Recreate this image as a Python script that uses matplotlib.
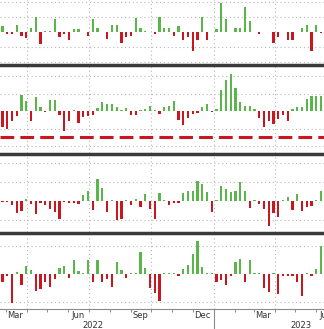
import datetime as dt

import matplotlib
matplotlib.use('Agg')
import matplotlib.pyplot as plt
import matplotlib.dates as mdates
import matplotlib.transforms as mtransforms

# weekly values, one list per panel (units = gridline steps)
panel1 = [0.4, -0.15, -0.15, 0.45, -0.27, -0.38, 0.25, 1.0, -0.8, 0.05,
          0.1, 0.85, -0.3, -0.1, -0.5, 0.2, 0.2, 0.03, -0.27, 0.85,
          0.3, 0.03, -0.45, 0.45, 0.5, -0.7, -0.3, -0.27, 0.9, 0.25,
          0.1, 0.03, -0.1, 1.0,
          0.3, 0.25, -0.25, 0.4, -0.5, -0.3, -1.25, -0.55, 1.0, -0.55,
          0.03, 0.2, 1.95, 0.85, 0.03, 0.3, 0.25, 1.65, 0.75, 0.03,
          -0.1, 0.03, 0.03, -0.75, -0.3, 0.03, -0.5, -0.5, 0.03, 0.25,
          0.5, -1.25, 0.45, -0.05, 0.9]
panel2 = [-0.9, -1.0, -0.55, -0.3, 0.9, 0.6, -0.55, 0.8, 0.25, -0.04,
          0.65, 0.65, -0.25, -1.15, -0.55, 0.08, -0.7, -0.35, -0.3, -0.25,
          0.15, 0.5, 0.4, 0.4, 0.25, 0.08, 0.2, -0.2, -0.2, 0.03,
          0.12, 0.3, 0.08, -0.15,
          0.25, 0.3, 0.6, -0.5, -0.8, -0.4, -0.15, -0.12, 0.25, 0.4,
          -0.04, 0.12, 1.2, 1.8, 2.1, 1.3, 0.5, 0.3, 0.3, 0.12,
          -0.4, -0.9, -0.55, -0.75, -0.45, -0.25, -0.55, 0.12, 0.25, 0.25,
          0.7, 0.85, 0.85, 0.85, 0.85]
panel3 = [-0.05, -0.06, -0.2, -0.65, -0.55, 0.08, -0.15, -0.7, -0.1, -0.2,
          -0.4, -0.6, -0.95, -0.05, -0.1, -0.1, -0.15, 0.3, 0.55, -0.5,
          1.15, 0.7, -0.6, 0.03, -1.0, -0.95, 0.03, -0.2, 0.08, -0.3,
          0.35, -0.4, -0.95, 0.4,
          0.03, -0.2, -0.12, -0.12, 0.4, 0.55, 0.55, 1.05, 0.9, 0.45,
          -0.6, 0.03, 0.8, 0.65, 0.45, 0.5, 1.0, 0.5, -0.35, 0.03,
          -0.15, -0.4, -1.3, -0.65, -0.85, 0.03, 0.2, -0.45, 0.35, -0.55,
          -0.3, -0.28, 0.03, 0.5, 0.55]
panel4 = [-0.3, -0.08, -1.05, 0.06, -0.4, 0.27, 0.13, -0.6, -0.55, -0.3,
          -0.45, -0.18, 0.2, 0.3, -0.15, 0.5, 0.1, 0.03, 0.5, -0.27,
          0.5, -0.27, -0.18, -0.45, 0.42, 0.13, -0.15, 0.03, 0.03, 0.78,
          0.2, -0.5, -0.68, -0.98,
          0.04, 0.03, 0.05, -0.08, 0.18, 0.33, 0.7, 1.17, 0.25, 0.03,
          0.03, -0.3, -0.2, -0.38, -0.08, 0.42, 0.53, -0.27, 0.5, 0.03,
          0.03, -0.5, -0.65, 0.03, -0.7, -0.08, -0.08, -0.08, -0.27, -0.8,
          0.03, -0.06, 0.18, 1.0, 0.45]
threshold2 = -1.5

month_labels = ['Mar', 'Jun', 'Sep', 'Dec', 'Mar', 'Jun']
month_label_dates = [dt.date(2022, 3, 15), dt.date(2022, 6, 15), dt.date(2022, 9, 15),
                     dt.date(2022, 12, 15), dt.date(2023, 3, 15), dt.date(2023, 6, 15)]
year_labels = ['2022', '2023']
year_label_dates = [dt.date(2022, 7, 7), dt.date(2023, 5, 10)]
quarter_lines = [dt.date(2022, 4, 1), dt.date(2022, 7, 1), dt.date(2022, 10, 1),
                 dt.date(2023, 1, 1), dt.date(2023, 4, 1)]

GREEN = '#5ab54a'
RED = '#c8171e'
W, H = 324, 329

start = dt.date(2022, 2, 24)
n = len(panel1)
dates = [mdates.date2num(start + dt.timedelta(days=7 * i)) for i in range(n)]
x0 = mdates.date2num(dt.date(2022, 4, 1)) - 27 / 0.679
x1 = x0 + W / 0.679

fig = plt.figure(figsize=(W / 100, H / 100), dpi=100)
fig.patch.set_facecolor('white')


def add_panel(top, bottom, zero, unit, values):
    ax = fig.add_axes([0, 1 - bottom / H, 1, (bottom - top) / H])
    ax.set_xlim(x0, x1)
    ax.set_ylim(-(bottom - zero) / unit, (zero - top) / unit)
    for s in ax.spines.values():
        s.set_visible(False)
    ax.set_xticks([])
    ax.set_yticks([])
    lo, hi = ax.get_ylim()
    for k in range(-3, 4):
        if k != 0 and lo < k < hi:
            ax.axhline(k, color='#b8b8b8', lw=0.8, ls=(0, (1, 2.5)), zorder=0)
    for q in quarter_lines:
        ax.axvline(mdates.date2num(q), color='#b8b8b8', lw=0.8, ls=(0, (1, 2.5)), zorder=0)
    colors = [GREEN if v >= 0 else RED for v in values]
    ax.bar(dates[:len(values)], values, width=3.3, color=colors, lw=0, zorder=2)
    return ax


ax1 = add_panel(0, 62.5, 32, 15, panel1)
ax2 = add_panel(66, 152.5, 111, 17.5, panel2)
ax2.axhline(threshold2, color=RED, lw=2.2, ls=(0, (4.5, 2)), zorder=3)
ax3 = add_panel(155.5, 231.5, 201, 19, panel3)
ax4 = add_panel(234.5, 309, 274, 28, panel4)

# thick separators between panels
for yp in [64.5, 154, 233]:
    fig.add_artist(plt.Line2D([0, 1], [1 - yp / H] * 2, color='#3a3a3a', lw=2.5,
                              transform=fig.transFigure))

# bottom axis
ax4.spines['bottom'].set_visible(True)
ax4.spines['bottom'].set_color('#8a8a8a')
ax4.spines['bottom'].set_linewidth(0.8)
months = [mdates.date2num(dt.date(2022 + (m - 1) // 12, (m - 1) % 12 + 1, 1)) for m in range(2, 20)]
ax4.set_xticks(months)
ax4.set_xticklabels([])
ax4.tick_params(axis='x', length=2.5, width=0.7, color='#8a8a8a', direction='out')
ax4.set_xlim(x0, x1)

trans = mtransforms.blended_transform_factory(ax4.transData, fig.transFigure)
for lab, d in zip(month_labels, month_label_dates):
    ax4.text(mdates.date2num(d), 1 - 316 / H, lab, transform=trans, ha='center', va='center',
             fontsize=6, color='#333333', clip_on=False)
for lab, d in zip(year_labels, year_label_dates):
    ax4.text(mdates.date2num(d), 1 - 325 / H, lab, transform=trans, ha='center', va='center',
             fontsize=6, color='#333333', clip_on=False)
yr = mdates.date2num(dt.date(2023, 1, 1))
fig.add_artist(plt.Line2D([yr, yr], [1 - 309 / H, 0], color='#8a8a8a', lw=0.8, transform=trans))

fig.savefig('out.png', dpi=100)
